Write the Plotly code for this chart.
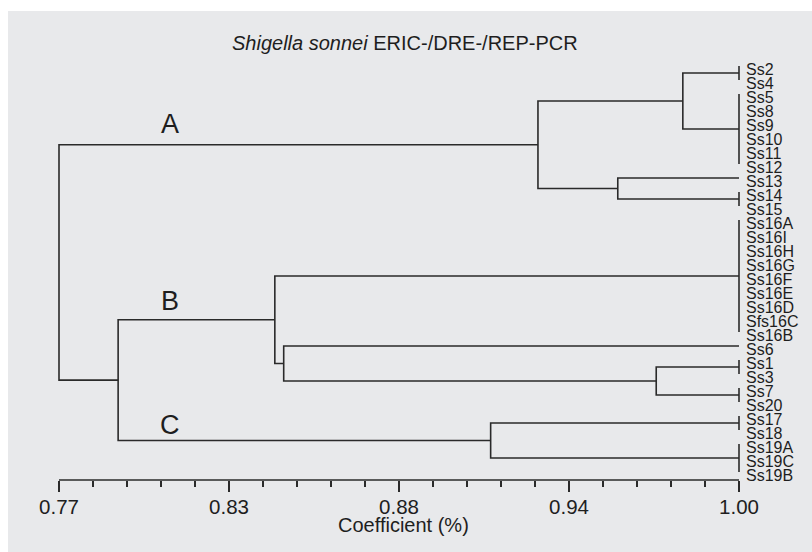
import plotly.graph_objects as go

# ---------------- data ----------------
leaf_labels = ["Ss2", "Ss4", "Ss5", "Ss8", "Ss9", "Ss10", "Ss11", "Ss12", "Ss13",
               "Ss14", "Ss15", "Ss16A", "Ss16I", "Ss16H", "Ss16G", "Ss16F", "Ss16E",
               "Ss16D", "Sfs16C", "Ss16B", "Ss6", "Ss1", "Ss3", "Ss7", "Ss20",
               "Ss17", "Ss18", "Ss19A", "Ss19C", "Ss19B"]

# groups of identical profiles (coefficient 1.00): first / last leaf index
group_first = [0, 2, 8, 9, 11, 20, 21, 23, 25, 27]
group_last = [1, 7, 8, 10, 19, 20, 22, 24, 26, 29]

# merges (m0..m8): children are groups "g#" or earlier merges "m#"
merge_left = ["g0", "g2", "m0", "g6", "g5", "g4", "g8", "m5", "m2"]
merge_right = ["g1", "g3", "m1", "g7", "m3", "m4", "g9", "m6", "m7"]
merge_coef = [0.981, 0.959, 0.932, 0.972, 0.846, 0.843, 0.916, 0.790, 0.770]

clade_names = ["A", "B", "C"]
clade_nodes = ["m2", "m5", "m6"]

tick_vals = [0.77, 0.8275, 0.885, 0.9425, 1.00]
tick_text = ["0.77", "0.83", "0.88", "0.94", "1.00"]
minor_step = 0.0115

title_html = "<i>Shigella sonnei</i> ERIC-/DRE-/REP-PCR"
x_title = "Coefficient (%)"

# ---------------- layout constants ----------------
W, H = 812, 552
FONT = "Liberation Sans, Arial, Helvetica, sans-serif"
INK = "#1e1e1e"
LINE = "#2a2a2a"
BG = "#e8e9eb"
PX_LEFT, PX_RIGHT = 59, 739          # pixel positions of 0.77 and 1.00
ROW0_PX, ROW_PX = 66, 14.0           # pixel of row 0 and row spacing
AXIS_PX = 480

ppu = (PX_RIGHT - PX_LEFT) / (tick_vals[-1] - tick_vals[0])
x_range = [tick_vals[0] - PX_LEFT / ppu, tick_vals[0] + (W - PX_LEFT) / ppu]
y_range = [(H - ROW0_PX) / ROW_PX, -ROW0_PX / ROW_PX]

# ---------------- build dendrogram ----------------
pos = {}   # node -> (x, y)
xs, ys = [], []
leaf_max = tick_vals[-1]
for i, (a, b) in enumerate(zip(group_first, group_last)):
    pos["g%d" % i] = (leaf_max, (a + b) / 2)
    if b > a:
        xs += [leaf_max, leaf_max, None]
        ys += [a, b, None]

for i, (l, r, c) in enumerate(zip(merge_left, merge_right, merge_coef)):
    (xl, yl), (xr, yr) = pos[l], pos[r]
    xs += [xl, c, c, xr, None]
    ys += [yl, yl, yr, yr, None]
    pos["m%d" % i] = (c, (yl + yr) / 2)

fig = go.Figure()
fig.add_trace(go.Scatter(x=xs, y=ys, mode="lines",
                         line=dict(color=LINE, width=1.6),
                         hoverinfo="skip", showlegend=False))

annotations = []
# leaf labels
for i, lab in enumerate(leaf_labels):
    annotations.append(dict(x=leaf_max, y=i + 0.25, xref="x", yref="y",
                            text=lab, showarrow=False, xanchor="left", yanchor="middle",
                            xshift=5, font=dict(family=FONT, size=16, color=INK)))

# clade labels
clade_x = 0.8075
clade_dy = [1.45, 1.37, 1.1]
for name, node, dy in zip(clade_names, clade_nodes, clade_dy):
    # the label sits above the branch entering the node
    annotations.append(dict(x=clade_x, y=pos[node][1] - dy, xref="x", yref="y",
                            text=name, showarrow=False, yanchor="middle",
                            font=dict(family=FONT, size=27, color=INK)))

annotations.append(dict(x=405 / W, y=1 - 43 / H, xref="paper", yref="paper",
                        text=title_html, showarrow=False, yanchor="middle",
                        font=dict(family=FONT, size=20, color=INK)))
annotations.append(dict(x=403 / W, y=1 - 525 / H, xref="paper", yref="paper",
                        text=x_title, showarrow=False, yanchor="middle",
                        font=dict(family=FONT, size=20, color=INK)))

minor_vals = [tick_vals[0] + k * minor_step for k in range(21)]

fig.update_layout(
    width=W, height=H,
    margin=dict(l=0, r=0, t=0, b=0),
    paper_bgcolor="white",
    plot_bgcolor="rgba(0,0,0,0)",
    showlegend=False,
    hovermode=False,
    annotations=annotations,
    shapes=[
        dict(type="rect", xref="paper", yref="paper", x0=8 / W, x1=1, y0=0, y1=1 - 11 / H,
             fillcolor=BG, line=dict(width=0), layer="below"),
        dict(type="line", xref="x", yref="paper", x0=tick_vals[0], x1=tick_vals[-1],
             y0=1 - AXIS_PX / H, y1=1 - AXIS_PX / H, line=dict(color=LINE, width=1.6)),
    ],
    xaxis=dict(range=x_range, domain=[0, 1], anchor="free", position=1 - AXIS_PX / H,
               showgrid=False, zeroline=False, showline=False, fixedrange=True,
               tickmode="array", tickvals=tick_vals, ticktext=tick_text,
               ticks="outside", ticklen=11, tickwidth=1.5, tickcolor=LINE,
               ticklabelstandoff=-3,
               tickfont=dict(family=FONT, size=20.5, color=INK),
               minor=dict(tickmode="array", tickvals=minor_vals, ticks="outside",
                          ticklen=6, tickwidth=1.5, tickcolor=LINE, showgrid=False)),
    yaxis=dict(range=y_range, domain=[0, 1], visible=False, showgrid=False,
               zeroline=False, fixedrange=True),
)

fig.write_html("out.html",
               config={"displayModeBar": False, "staticPlot": True},
               post_script="document.body.style.margin='0px';"
                           "document.body.style.overflow='hidden';")
